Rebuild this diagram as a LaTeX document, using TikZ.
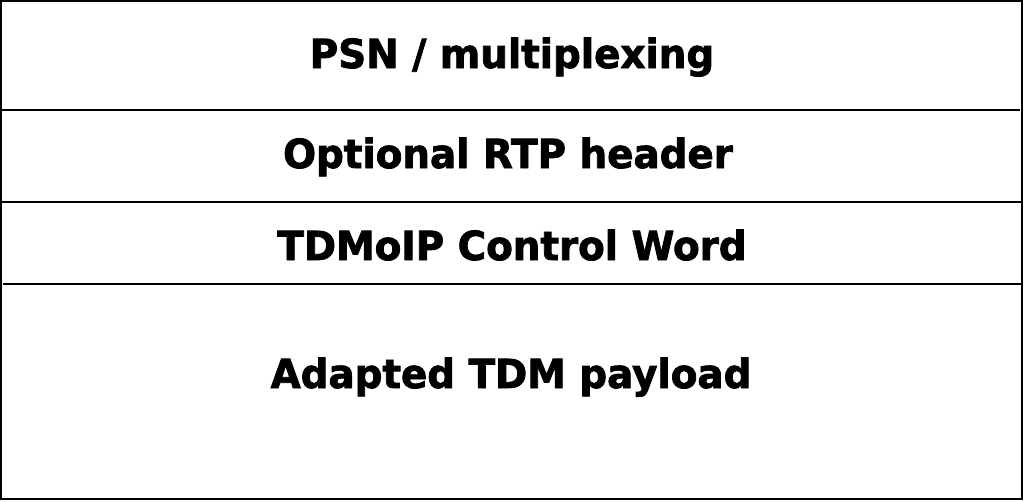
\documentclass[tikz,border=0pt]{standalone}
\usepackage{fontspec}
\setmainfont{DejaVu Sans}[BoldFeatures={FakeBold=2,FakeStretch=0.97}]
\begin{document}
\begin{tikzpicture}[x=1pt,y=-1pt]
\tikzstyle{every node}+=[inner sep=0pt]
\tikzstyle{layer}=[font=\bfseries\fontsize{40}{48}\selectfont, anchor=base]
\useasboundingbox (0,0) rectangle (1024,501);
\draw [black, line width=2pt] (1,1) rectangle (1022,499);
\draw [black, line width=1.6pt] (1,110) -- (1020,110);
\draw [black, line width=1.4pt] (1,202) -- (1022,202);
\draw [black, line width=1.8pt] (3,284) -- (1022,284);
\draw (512,68) node [layer] (psn) {PSN / multiplexing};
\draw (508,168) node [layer] (rtp) {Optional RTP header};
\draw (512,260) node [layer] (cw) {TDMoIP Control Word};
\draw (511,388) node [layer] (payload) {Adapted TDM payload};
\end{tikzpicture}
\end{document}
